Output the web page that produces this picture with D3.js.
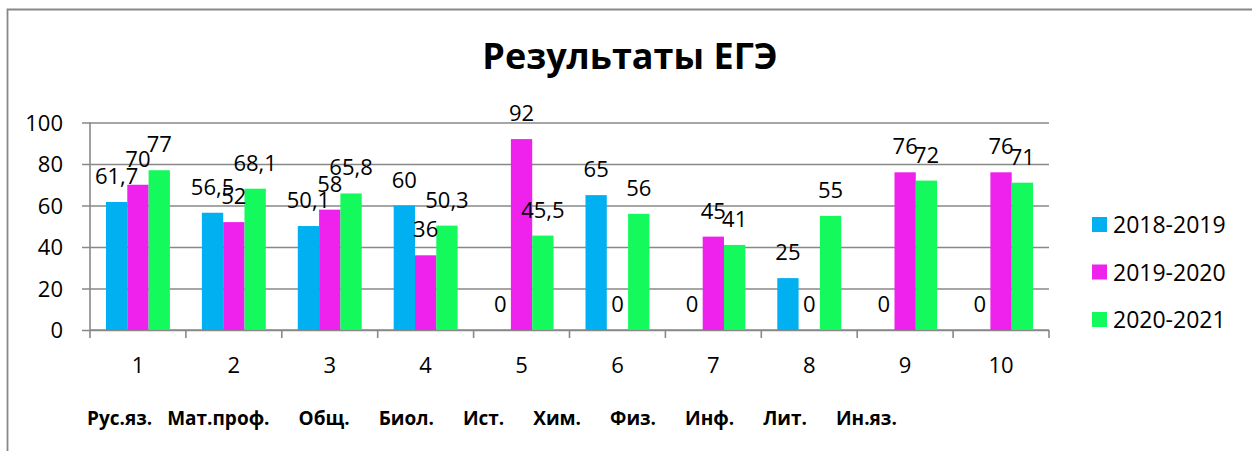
<!DOCTYPE html>
<html>
<head>
<meta charset="utf-8">
<script src="https://cdn.jsdelivr.net/npm/d3@7"></script>
<style>
  html, body { margin: 0; background: #fff; overflow: hidden; }
  svg { display: block; }
  svg text { font-family: "Open Sans", "Noto Sans", sans-serif; fill: #000; }
</style>
</head>
<body>
<div id="canvas"></div>
<script>
// data
var categories = ['1','2','3','4','5','6','7','8','9','10'];
var subjects = ['Рус.яз.','Мат.проф.','Общ.','Биол.','Ист.','Хим.','Физ.','Инф.','Лит.','Ин.яз.'];
var seriesNames = ['2018-2019','2019-2020','2020-2021'];
var values2018 = [61.7, 56.5, 50.1, 60, 0, 65, 0, 25, 0, 0];
var values2019 = [70, 52, 58, 36, 92, 0, 45, 0, 76, 76];
var values2020 = [77, 68.1, 65.8, 50.3, 45.5, 56, 41, 55, 72, 71];
var yTicks = [0, 20, 40, 60, 80, 100];
var colors = ['#00b0f0', '#ee22ec', '#14f95c'];

var W = 1252, H = 451;
var m = {t:122.5, r:203, b:121, l:90};
var w = W - m.l - m.r,
    h = H - m.t - m.b;

var svg = d3.select('#canvas').append('svg')
    .attr('width', W)
    .attr('height', H);

// chart frame: only top and left edges are inside the picture
svg.append('path')
    .attr('d', 'M7.5,' + H + 'V9.5H' + W)
    .attr('fill', 'none')
    .attr('stroke', '#888')
    .attr('stroke-width', 1.8);

svg.append('text')
    .attr('x', 630).attr('y', 69)
    .attr('text-anchor', 'middle')
    .style('font-size', '36px')
    .style('font-weight', 'bold')
    .text('Результаты ЕГЭ');

var plot = svg.append('g')
    .attr('transform', 'translate(' + m.l + ',' + m.t + ')');

var scaleX = d3.scaleBand().domain(categories).range([0, w]).padding(0);
var scaleX1 = d3.scaleBand().domain(seriesNames).range([0, scaleX.bandwidth()])
    .paddingInner(0).paddingOuter(0.75);
var scaleY = d3.scaleLinear().domain([0, 100]).range([h, 0]);

// gridlines + y axis
var axisY = d3.axisLeft(scaleY).tickValues(yTicks).tickSize(-(w + 8)).tickSizeOuter(0).tickPadding(19);
var gy = plot.append('g')
    .attr('class', 'axis-y')
    .attr('transform', 'translate(-8,0)')
    .call(axisY);
gy.select('.domain').remove();
gy.selectAll('line').attr('stroke', '#888').attr('stroke-width', 1.6);
gy.selectAll('text').style('font-size', '22px').attr('dy', '0.36em');

plot.append('line')
    .attr('x1', 0).attr('x2', 0).attr('y1', 0).attr('y2', h)
    .attr('stroke', '#888').attr('stroke-width', 1.6);

// x axis: ticks at category boundaries
var gx = plot.append('g').attr('transform', 'translate(0,' + h + ')');
gx.append('line').attr('x1', 0).attr('x2', w).attr('stroke', '#888').attr('stroke-width', 1.6);
gx.selectAll('.xtick')
    .data(categories.concat(['end']))
    .enter().append('line')
    .attr('class', 'xtick')
    .attr('x1', function(d, i){ return i < categories.length ? scaleX(d) : w; })
    .attr('x2', function(d, i){ return i < categories.length ? scaleX(d) : w; })
    .attr('y1', 0).attr('y2', 8)
    .attr('stroke', '#888').attr('stroke-width', 1.6);
gx.selectAll('.xlab')
    .data(categories)
    .enter().append('text')
    .attr('class', 'xlab')
    .attr('x', function(d){ return scaleX(d) + scaleX.bandwidth()/2; })
    .attr('y', 43)
    .attr('text-anchor', 'middle')
    .style('font-size', '22px')
    .text(function(d){ return d; });

// subject names, written as one line under the axis
var subj = svg.append('g').attr('class', 'subjects');
var cx = 87;
subjects.forEach(function(s, i){
    var t = subj.append('text')
        .attr('x', cx).attr('y', 425)
        .style('font-size', '19px')
        .style('font-weight', 'bold')
        .text(s);
    cx += t.node().getComputedTextLength() + (i === 0 ? 15 : 29);
});

// bars
var series = [values2018, values2019, values2020];
var rows = [];
series.forEach(function(vals, si){
    vals.forEach(function(v, ci){
        rows.push({cat: categories[ci], name: seriesNames[si], si: si, v: v});
    });
});

plot.selectAll('.bar')
    .data(rows)
    .enter().append('rect')
    .attr('class', 'bar')
    .attr('x', function(d){ return scaleX(d.cat) + scaleX1(d.name); })
    .attr('width', scaleX1.bandwidth())
    .attr('y', function(d){ return scaleY(d.v); })
    .attr('height', function(d){ return h - scaleY(d.v); })
    .attr('fill', function(d){ return colors[d.si]; });

plot.selectAll('.lbl')
    .data(rows)
    .enter().append('text')
    .attr('class', 'lbl')
    .attr('x', function(d){ return scaleX(d.cat) + scaleX1(d.name) + scaleX1.bandwidth()/2; })
    .attr('y', function(d){ return scaleY(d.v) - 18; })
    .attr('text-anchor', 'middle')
    .style('font-size', '22px')
    .text(function(d){ return String(d.v).replace('.', ','); });

// legend
var legend = svg.append('g').attr('transform', 'translate(1092,225)');
var li = legend.selectAll('g')
    .data(seriesNames)
    .enter().append('g')
    .attr('transform', function(d, i){ return 'translate(0,' + (i * 47.5) + ')'; });
li.append('rect')
    .attr('x', 0).attr('y', -8)
    .attr('width', 15).attr('height', 15)
    .attr('fill', function(d, i){ return colors[i]; });
li.append('text')
    .attr('x', 21).attr('y', 0).attr('dy', '0.36em')
    .style('font-size', '23px')
    .text(function(d){ return d; });
</script>
</body>
</html>
